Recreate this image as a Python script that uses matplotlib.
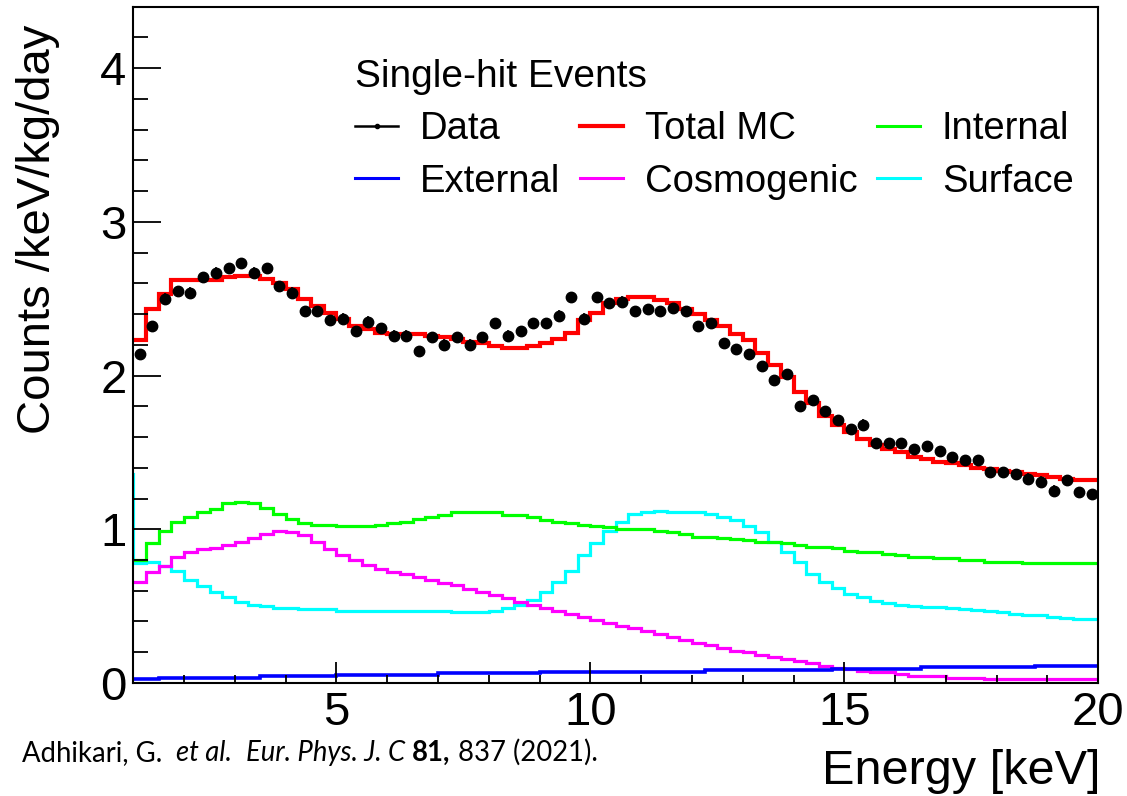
import numpy as np
import matplotlib.pyplot as plt
from matplotlib.lines import Line2D
from matplotlib.ticker import MultipleLocator, FixedLocator

plt.rcParams['font.family'] = ['Liberation Sans', 'DejaVu Sans']

# 0.25 keV bins from 1 to 20 keV
BIN_EDGES = np.arange(1.0, 20.0001, 0.25)
BIN_CENTERS = 0.5 * (BIN_EDGES[:-1] + BIN_EDGES[1:])

data = [
    2.14, 2.32, 2.50, 2.55, 2.54, 2.64, 2.67, 2.70, 2.73, 2.67,
    2.70, 2.58, 2.54, 2.42, 2.42, 2.36, 2.37, 2.29, 2.35, 2.31,
    2.26, 2.26, 2.16, 2.25, 2.20, 2.25, 2.20, 2.25, 2.34, 2.26,
    2.29, 2.34, 2.34, 2.39, 2.51, 2.37, 2.51, 2.47, 2.48, 2.42,
    2.43, 2.42, 2.44, 2.42, 2.32, 2.34, 2.21, 2.17, 2.14, 2.06,
    1.97, 2.01, 1.80, 1.84, 1.77, 1.71, 1.65, 1.68, 1.56, 1.56,
    1.56, 1.52, 1.54, 1.51, 1.47, 1.45, 1.45, 1.37, 1.37, 1.36,
    1.33, 1.31, 1.25, 1.32, 1.24, 1.23,
]
DATA_ERR = 0.035

total_mc = [
    2.23, 2.43, 2.53, 2.62, 2.62, 2.62, 2.62, 2.64, 2.65, 2.65,
    2.63, 2.60, 2.56, 2.50, 2.45, 2.41, 2.37, 2.32, 2.30, 2.28,
    2.27, 2.27, 2.27, 2.26, 2.25, 2.24, 2.22, 2.21, 2.19, 2.18,
    2.18, 2.19, 2.21, 2.24, 2.28, 2.36, 2.41, 2.47, 2.50, 2.51,
    2.51, 2.49, 2.47, 2.43, 2.40, 2.36, 2.32, 2.27, 2.23, 2.15,
    2.07, 1.99, 1.89, 1.82, 1.74, 1.68, 1.63, 1.59, 1.55, 1.52,
    1.50, 1.47, 1.46, 1.44, 1.43, 1.42, 1.40, 1.39, 1.38, 1.37,
    1.36, 1.35, 1.34, 1.33, 1.32, 1.32,
]

internal = [
    0.80, 0.91, 0.99, 1.05, 1.08, 1.11, 1.13, 1.17, 1.18, 1.17,
    1.14, 1.10, 1.07, 1.04, 1.03, 1.03, 1.02, 1.02, 1.02, 1.03,
    1.04, 1.05, 1.07, 1.08, 1.09, 1.11, 1.11, 1.11, 1.11, 1.09,
    1.09, 1.08, 1.06, 1.05, 1.04, 1.03, 1.02, 1.015, 1.00, 1.00,
    1.00, 0.99, 0.98, 0.97, 0.95, 0.95, 0.94, 0.935, 0.93, 0.92,
    0.92, 0.91, 0.90, 0.885, 0.885, 0.875, 0.86, 0.85, 0.85, 0.84,
    0.83, 0.82, 0.82, 0.81, 0.81, 0.80, 0.80, 0.79, 0.79, 0.79,
    0.78, 0.78, 0.78, 0.78, 0.78, 0.78,
]

cosmogenic = [
    0.66, 0.72, 0.76, 0.82, 0.85, 0.87, 0.88, 0.90, 0.92, 0.94,
    0.97, 0.99, 0.98, 0.96, 0.92, 0.87, 0.83, 0.80, 0.77, 0.74,
    0.72, 0.71, 0.69, 0.67, 0.65, 0.64, 0.61, 0.59, 0.57, 0.55,
    0.53, 0.51, 0.49, 0.47, 0.45, 0.43, 0.41, 0.39, 0.37, 0.355,
    0.34, 0.32, 0.30, 0.28, 0.26, 0.25, 0.23, 0.21, 0.20, 0.18,
    0.17, 0.155, 0.14, 0.13, 0.11, 0.10, 0.09, 0.078, 0.07, 0.07,
    0.056, 0.045, 0.045, 0.045, 0.035, 0.035, 0.035, 0.024, 0.024, 0.024,
    0.024, 0.024, 0.024, 0.024, 0.024, 0.024,
]

# first entry is the bin just below 1 keV (only its edge shows)
surface = [
    1.36,
    0.78, 0.79, 0.76, 0.73, 0.67, 0.63, 0.59, 0.56, 0.53, 0.51,
    0.50, 0.49, 0.485, 0.48, 0.48, 0.48, 0.47, 0.47, 0.47, 0.47,
    0.47, 0.47, 0.47, 0.47, 0.47, 0.46, 0.46, 0.46, 0.47, 0.485,
    0.51, 0.54, 0.59, 0.66, 0.73, 0.83, 0.91, 0.99, 1.05, 1.10,
    1.11, 1.12, 1.11, 1.11, 1.11, 1.10, 1.08, 1.06, 1.02, 0.98,
    0.92, 0.85, 0.79, 0.71, 0.66, 0.62, 0.58, 0.56, 0.535, 0.52,
    0.51, 0.50, 0.495, 0.495, 0.49, 0.48, 0.475, 0.47, 0.46, 0.45,
    0.445, 0.44, 0.43, 0.425, 0.415, 0.415,
]

external = [
    0.024, 0.024, 0.034, 0.034, 0.034, 0.034, 0.034, 0.034, 0.034, 0.034,
    0.045, 0.045, 0.045, 0.045, 0.045, 0.045, 0.055, 0.055, 0.055, 0.055,
    0.055, 0.055, 0.055, 0.055, 0.065, 0.065, 0.065, 0.065, 0.065, 0.065,
    0.065, 0.065, 0.074, 0.074, 0.074, 0.074, 0.074, 0.074, 0.074, 0.074,
    0.074, 0.074, 0.074, 0.074, 0.074, 0.083, 0.083, 0.083, 0.083, 0.083,
    0.083, 0.083, 0.083, 0.083, 0.083, 0.093, 0.093, 0.093, 0.093, 0.093,
    0.093, 0.093, 0.103, 0.103, 0.103, 0.103, 0.103, 0.103, 0.103, 0.103,
    0.103, 0.112, 0.112, 0.112, 0.112, 0.112,
]

labels = ["Data", "External", "Total MC", "Cosmogenic", "Internal", "Surface"]

RED = "#ff0000"
GREEN = "#00ff00"
BLUE = "#0000ff"
MAGENTA = "#ff00ff"
CYAN = "#00ffff"


def main():
    fig = plt.figure(figsize=(11.27, 7.96), dpi=100)
    ax = fig.add_axes([0.1183, 0.1420, 0.8562, 0.8496])

    surf_edges = np.concatenate([[BIN_EDGES[0] - 0.25], BIN_EDGES])
    ax.stairs(surface, surf_edges, baseline=None, color=CYAN, lw=2.3)
    ax.stairs(cosmogenic, BIN_EDGES, baseline=None, color=MAGENTA, lw=2.3)
    ax.stairs(internal, BIN_EDGES, baseline=None, color=GREEN, lw=2.3)
    ax.stairs(external, BIN_EDGES, baseline=None, color=BLUE, lw=2.6)
    ax.stairs(total_mc, BIN_EDGES, baseline=None, color=RED, lw=3.0)
    ax.errorbar(BIN_CENTERS, data, yerr=DATA_ERR, fmt="o", color="black",
                ms=7.5, elinewidth=1.2, capsize=0, zorder=5)

    ax.set_xlim(1, 20)
    ax.set_ylim(0, 4.4)

    ax.xaxis.set_major_locator(FixedLocator([5, 10, 15, 20]))
    ax.xaxis.set_minor_locator(MultipleLocator(1))
    ax.yaxis.set_major_locator(FixedLocator([0, 1, 2, 3, 4]))
    ax.yaxis.set_minor_locator(MultipleLocator(0.2))
    ax.tick_params(axis="both", which="both", direction="in", width=1.3,
                   labelsize=34)
    ax.tick_params(axis="y", which="major", length=20, pad=5)
    ax.tick_params(axis="y", which="minor", length=11)
    ax.tick_params(axis="x", which="major", length=15, pad=6)
    ax.tick_params(axis="x", which="minor", length=6)
    for sp in ax.spines.values():
        sp.set_linewidth(1.5)

    fig.text(38 / 1127, 1 - 25 / 796, "Counts /keV/kg/day", rotation=90,
             ha="center", va="top", fontsize=34)
    fig.text(1100 / 1127, 1 - 784 / 796, "Energy [keV]", ha="right",
             va="baseline", fontsize=35)

    colors = ["black", BLUE, RED, MAGENTA, GREEN, CYAN]
    handles = []
    for lab, c in zip(labels, colors):
        if lab == "Data":
            h = Line2D([], [], color=c, lw=1.8, marker="o", ms=3)
        else:
            h = Line2D([], [], color=c, lw=3.0 if lab == "Total MC" else 2.2)
        handles.append(h)

    ax.legend(handles=handles, labels=labels, ncol=3,
              title="Single-hit Events", title_fontsize=28,
              loc="upper left", bbox_to_anchor=(0.2297, 0.9227),
              frameon=False, fontsize=27.5, handlelength=1.13,
              handletextpad=0.58, columnspacing=0.5, labelspacing=0.43,
              borderpad=0, borderaxespad=0, alignment="left")

    # citation line, pieces drawn one after another
    pieces = [
        ("Adhikari, G.  ", "normal", "normal"),
        ("et al.", "italic", "normal"),
        ("  ", "normal", "normal"),
        ("Eur. Phys. J. C", "italic", "normal"),
        (" ", "normal", "normal"),
        ("81,", "normal", "bold"),
        (" 837 (2021).", "normal", "normal"),
    ]
    renderer = fig.canvas.get_renderer()
    x = 22 / 1127
    y = 1 - 761 / 796
    for txt, style, weight in pieces:
        t = fig.text(x, y, txt, fontsize=19.8, style=style, weight=weight,
                     family="Lato", ha="left", va="baseline")
        x += t.get_window_extent(renderer).width / fig.bbox.width

    fig.savefig("out.png", dpi=100)


if __name__ == "__main__":
    main()
